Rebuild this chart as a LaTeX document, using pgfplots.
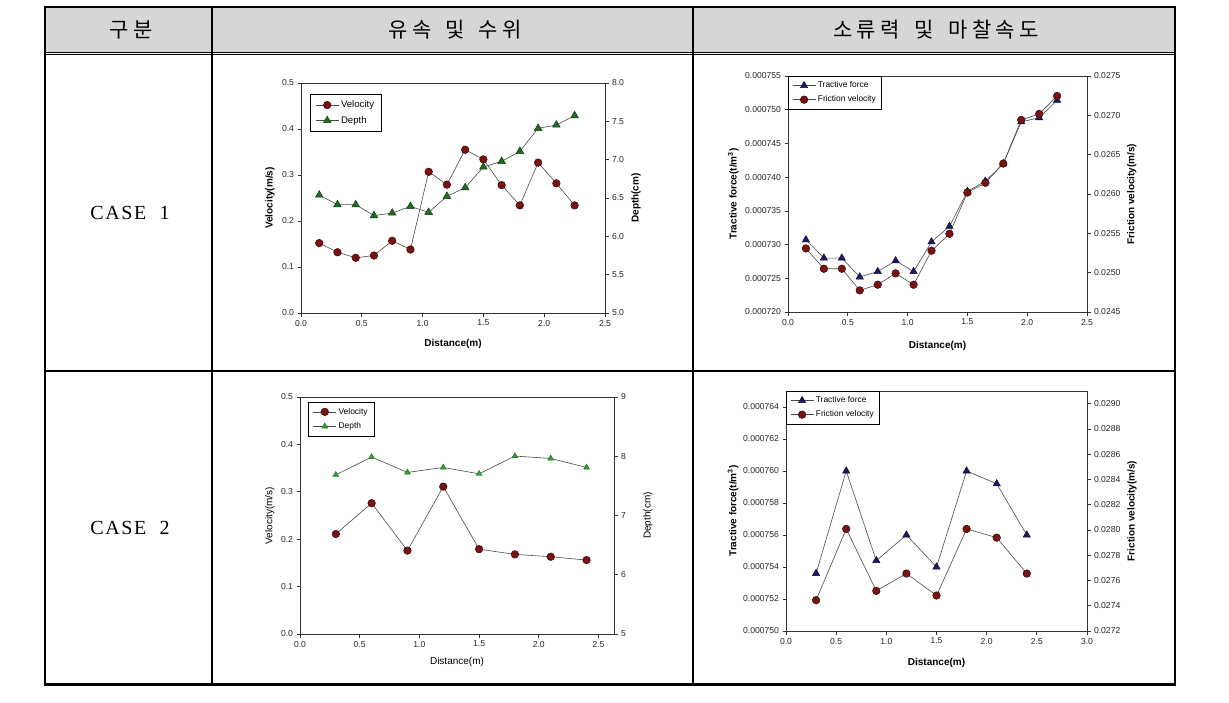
\documentclass[border=0pt]{standalone}
\usepackage{fontspec}
\setmainfont{Liberation Sans}
\newfontfamily\krfont{Noto Sans CJK KR}
\newfontfamily\seriffont{Liberation Serif}
\usepackage{pgfplots}
\pgfplotsset{compat=1.18}

\definecolor{hdrgray}{HTML}{D6D6D6}
\definecolor{vred}{HTML}{7A1212}
\definecolor{dgreen}{HTML}{1F6E1F}
\definecolor{lgreen}{HTML}{2FA02F}
\definecolor{navyb}{HTML}{1A1A66}
\definecolor{lncol}{HTML}{4A4A4A}

\pgfplotsset{
  base/.style={scale only axis, tick align=outside, major tick length=3.5pt,
    scaled y ticks=false, scaled x ticks=false,
    axis line style={line width=0.8pt, black!80},
    tick style={line width=0.7pt, black!80},
    ticklabel style={font=\fontsize{8.6}{10}\selectfont, text=black!85},
    label style={font=\fontsize{10}{12}\selectfont\bfseries},
    legend style={draw=black, line width=0.6pt, fill=white, cells={anchor=west},
      inner xsep=4pt, inner ysep=3.5pt, row sep=2.5pt},
    legend image code/.code={\draw[mark repeat=2,mark phase=2] plot coordinates {(0pt,0pt) (11.5pt,0pt) (23pt,0pt)};},
  },
  velstyle/.style={color=lncol, line width=0.6pt, mark=*, mark size=3.8pt,
    mark options={fill=vred, draw=black!60!vred, line width=0.5pt, solid}},
  depstyle/.style={color=lncol, line width=0.6pt, mark=triangle*, mark size=4.4pt,
    mark options={fill=dgreen, draw=black!50!dgreen, line width=0.5pt, solid}},
  dep2style/.style={color=lncol, line width=0.6pt, mark=triangle*, mark size=3.4pt,
    mark options={fill=lgreen, draw=black!30!lgreen, line width=0.4pt, solid}},
  trstyle/.style={color=lncol, line width=0.6pt, mark=triangle*, mark size=4.2pt,
    mark options={fill=navyb, draw=black!50!navyb, line width=0.5pt, solid}},
}

\begin{document}
\begin{tikzpicture}
\fill[white] (0,0) rectangle (1229pt,-702pt);
\useasboundingbox (0,0) rectangle (1229pt,-702pt);
% header fill
\fill[hdrgray] (45pt,-8pt) rectangle (1175pt,-51.7pt);
% double line under header
\draw[line width=1pt] (45pt,-52.2pt) -- (1175pt,-52.2pt);
\draw[line width=1pt] (45pt,-54.4pt) -- (1175pt,-54.4pt);
% row separator
\draw[line width=2pt] (45pt,-370.5pt) -- (1175pt,-370.5pt);
% column lines
\draw[line width=2pt] (211.7pt,-7pt) -- (211.7pt,-685pt);
\draw[line width=2pt] (693pt,-7pt) -- (693pt,-685pt);
% outer border
\draw[line width=2.7pt] (45pt,-7pt) rectangle (1175pt,-684.7pt);
% header texts
\node at (131pt,-30pt) {\krfont\fontsize{21}{25}\selectfont\addfontfeature{LetterSpace=20}구분};
\node at (455pt,-30pt) {\krfont\fontsize{21}{25}\selectfont\addfontfeature{LetterSpace=20}유속\hspace{5pt} 및\hspace{5pt} 수위};
\node at (936pt,-30pt) {\krfont\fontsize{21}{25}\selectfont\addfontfeature{LetterSpace=20}소류력\hspace{6pt} 및\hspace{6pt} 마찰속도};
% case labels
\node at (130pt,-212.5pt) {\seriffont\fontsize{20}{24}\selectfont\addfontfeature{LetterSpace=8}CASE\ \ 1};
\node at (130pt,-528pt) {\seriffont\fontsize{20}{24}\selectfont\addfontfeature{LetterSpace=8}CASE\ \ 2};

% ================= Chart 1 =================
\begin{axis}[base, at={(301pt,-313pt)}, anchor=south west, width=304pt, height=230pt,
  xmin=0, xmax=2.5, ymin=0, ymax=0.5,
  xtick={0,0.5,1,1.5,2,2.5}, xticklabels={0.0,0.5,1.0,1.5,2.0,2.5},
  ytick={0,0.1,0.2,0.3,0.4,0.5}, yticklabels={0.0,0.1,0.2,0.3,0.4,0.5},
  xtick pos=bottom, ytick pos=left,
  xlabel={Distance(m)}, ylabel={Velocity(m/s)},
  xlabel style={at={(axis description cs:0.5,-0.135)}, anchor=center},
  ylabel style={at={(axis description cs:-0.102,0.5)}, anchor=center}]
\addplot[velstyle] coordinates {(0.15,0.152) (0.30,0.132) (0.45,0.120) (0.60,0.125) (0.75,0.157) (0.90,0.138) (1.05,0.307) (1.20,0.279) (1.35,0.355) (1.50,0.334) (1.65,0.278) (1.80,0.234) (1.95,0.327) (2.10,0.282) (2.25,0.234)};
\end{axis}
\begin{axis}[base, at={(301pt,-313pt)}, anchor=south west, width=304pt, height=230pt,
  xmin=0, xmax=2.5, ymin=5, ymax=8,
  axis x line=none, axis y line*=right,
  ytick={5,5.5,6,6.5,7,7.5,8}, yticklabels={5.0,5.5,6.0,6.5,7.0,7.5,8.0},
  ylabel={Depth(cm)},
  ylabel style={at={(axis description cs:1.102,0.5)}, anchor=center},
  legend style={at={(axis description cs:0.03,0.952)}, anchor=north west, font=\fontsize{9.6}{11}\selectfont,
    inner xsep=5pt, inner ysep=4.5pt, row sep=3pt}]
\addlegendimage{velstyle}\addlegendentry{Velocity}
\addplot[depstyle] coordinates {(0.15,6.539) (0.30,6.413) (0.45,6.413) (0.60,6.270) (0.75,6.304) (0.90,6.391) (1.05,6.313) (1.20,6.522) (1.35,6.635) (1.50,6.904) (1.65,6.978) (1.80,7.109) (1.95,7.409) (2.10,7.452) (2.25,7.574)};
\addlegendentry{Depth}
\end{axis}

% ================= Chart 2 =================
\begin{axis}[base, at={(788pt,-312pt)}, anchor=south west, width=299pt, height=236pt,
  xmin=0, xmax=2.5, ymin=0.000720, ymax=0.000755,
  xtick={0,0.5,1,1.5,2,2.5}, xticklabels={0.0,0.5,1.0,1.5,2.0,2.5},
  ytick={0.000720,0.000725,0.000730,0.000735,0.000740,0.000745,0.000750,0.000755},
  yticklabels={0.000720,0.000725,0.000730,0.000735,0.000740,0.000745,0.000750,0.000755},
  xtick pos=bottom, ytick pos=left,
  xlabel={Distance(m)}, ylabel={Tractive force(t/m\textsuperscript{3})},
  xlabel style={at={(axis description cs:0.5,-0.144)}, anchor=center},
  ylabel style={at={(axis description cs:-0.183,0.5)}, anchor=center}]
\addplot[trstyle] coordinates {(0.15,0.0007307) (0.30,0.0007280) (0.45,0.0007280) (0.60,0.0007252) (0.75,0.0007260) (0.90,0.0007276) (1.05,0.0007260) (1.20,0.0007304) (1.35,0.0007327) (1.50,0.0007379) (1.65,0.0007394) (1.80,0.0007420) (1.95,0.0007482) (2.10,0.0007488) (2.25,0.0007514)};
\end{axis}
\begin{axis}[base, at={(788pt,-312pt)}, anchor=south west, width=299pt, height=236pt,
  xmin=0, xmax=2.5, ymin=0.0245, ymax=0.0275,
  axis x line=none, axis y line*=right,
  ytick={0.0245,0.0250,0.0255,0.0260,0.0265,0.0270,0.0275},
  yticklabels={0.0245,0.0250,0.0255,0.0260,0.0265,0.0270,0.0275},
  ylabel={Friction velocity(m/s)},
  ylabel style={at={(axis description cs:1.150,0.5)}, anchor=center},
  legend style={at={(axis description cs:0,1)}, anchor=north west, font=\fontsize{8.4}{10}\selectfont}]
\addlegendimage{trstyle}\addlegendentry{Tractive force}
\addplot[velstyle] coordinates {(0.15,0.025308) (0.30,0.025050) (0.45,0.025050) (0.60,0.024775) (0.75,0.024847) (0.90,0.024991) (1.05,0.024847) (1.20,0.025279) (1.35,0.025494) (1.50,0.026019) (1.65,0.026142) (1.80,0.026387) (1.95,0.026942) (2.10,0.027018) (2.25,0.027246)};
\addlegendentry{Friction velocity}
\end{axis}

% ================= Chart 3 =================
\begin{axis}[base, at={(300pt,-634pt)}, anchor=south west, width=314pt, height=237pt,
  label style={font=\fontsize{10}{12}\selectfont},
  xmin=0, xmax=2.63, ymin=0, ymax=0.5,
  xtick={0,0.5,1,1.5,2,2.5}, xticklabels={0.0,0.5,1.0,1.5,2.0,2.5},
  ytick={0,0.1,0.2,0.3,0.4,0.5}, yticklabels={0.0,0.1,0.2,0.3,0.4,0.5},
  xtick pos=bottom, ytick pos=left,
  xlabel={Distance(m)}, ylabel={Velocity(m/s)},
  xlabel style={at={(axis description cs:0.5,-0.118)}, anchor=center},
  ylabel style={at={(axis description cs:-0.096,0.5)}, anchor=center}]
\addplot[velstyle] coordinates {(0.3,0.211) (0.6,0.276) (0.9,0.176) (1.2,0.311) (1.5,0.179) (1.8,0.168) (2.1,0.163) (2.4,0.156)};
\end{axis}
\begin{axis}[base, at={(300pt,-634pt)}, anchor=south west, width=314pt, height=237pt,
  label style={font=\fontsize{10}{12}\selectfont},
  xmin=0, xmax=2.63, ymin=5, ymax=9,
  axis x line=none, axis y line*=right,
  ytick={5,6,7,8,9}, yticklabels={5,6,7,8,9},
  ylabel={Depth(cm)},
  ylabel style={at={(axis description cs:1.108,0.5)}, anchor=center},
  legend style={at={(axis description cs:0.0245,0.98)}, anchor=north west, font=\fontsize{8.4}{10}\selectfont,
    inner xsep=5pt, inner ysep=4pt, row sep=3pt}]
\addlegendimage{velstyle}\addlegendentry{Velocity}
\addplot[dep2style] coordinates {(0.3,7.687) (0.6,7.986) (0.9,7.727) (1.2,7.811) (1.5,7.704) (1.8,8.003) (2.1,7.963) (2.4,7.811)};
\addlegendentry{Depth}
\end{axis}

% ================= Chart 4 =================
\begin{axis}[base, at={(786pt,-631pt)}, anchor=south west, width=301pt, height=240pt,
  xmin=0, xmax=3, ymin=0.000750, ymax=0.000765,
  xtick={0,0.5,1,1.5,2,2.5,3}, xticklabels={0.0,0.5,1.0,1.5,2.0,2.5,3.0},
  ytick={0.000750,0.000752,0.000754,0.000756,0.000758,0.000760,0.000762,0.000764},
  yticklabels={0.000750,0.000752,0.000754,0.000756,0.000758,0.000760,0.000762,0.000764},
  xtick pos=bottom, ytick pos=left,
  xlabel={Distance(m)}, ylabel={Tractive force(t/m\textsuperscript{3})},
  xlabel style={at={(axis description cs:0.5,-0.133)}, anchor=center},
  ylabel style={at={(axis description cs:-0.176,0.5)}, anchor=center}]
\addplot[trstyle] coordinates {(0.3,0.0007536) (0.6,0.0007600) (0.9,0.0007544) (1.2,0.0007560) (1.5,0.0007540) (1.8,0.0007600) (2.1,0.0007592) (2.4,0.0007560)};
\end{axis}
\begin{axis}[base, at={(786pt,-631pt)}, anchor=south west, width=301pt, height=240pt,
  xmin=0, xmax=3, ymin=0.0272, ymax=0.0291,
  axis x line=none, axis y line*=right,
  ytick={0.0272,0.0274,0.0276,0.0278,0.0280,0.0282,0.0284,0.0286,0.0288,0.0290},
  yticklabels={0.0272,0.0274,0.0276,0.0278,0.0280,0.0282,0.0284,0.0286,0.0288,0.0290},
  ylabel={Friction velocity(m/s)},
  ylabel style={at={(axis description cs:1.150,0.5)}, anchor=center},
  legend style={at={(axis description cs:0,1)}, anchor=north west, font=\fontsize{8.4}{10}\selectfont}]
\addlegendimage{trstyle}\addlegendentry{Tractive force}
\addplot[velstyle] coordinates {(0.3,0.027444) (0.6,0.028008) (0.9,0.027518) (1.2,0.027655) (1.5,0.027481) (1.8,0.028008) (2.1,0.027939) (2.4,0.027655)};
\addlegendentry{Friction velocity}
\end{axis}
\end{tikzpicture}
\end{document}
